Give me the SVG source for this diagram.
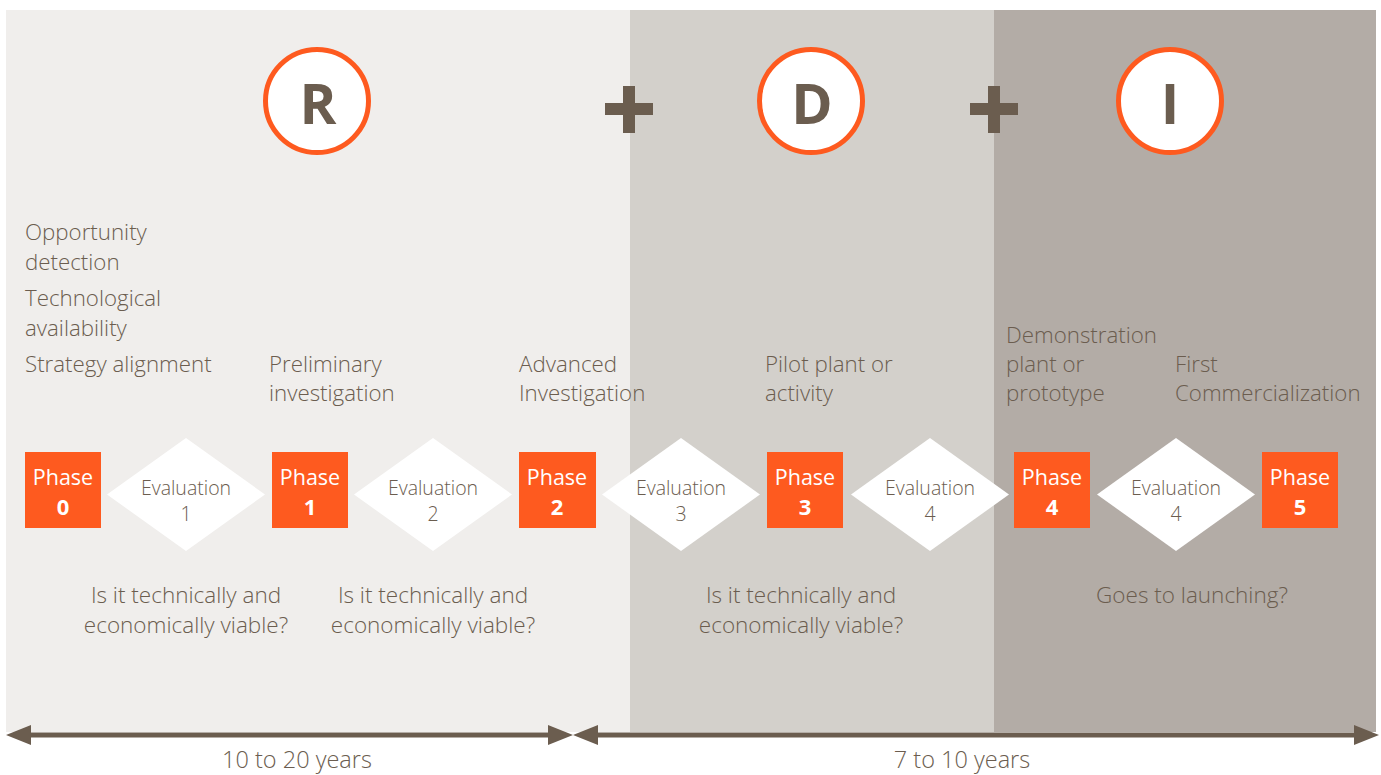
<svg xmlns="http://www.w3.org/2000/svg" width="1381" height="775" viewBox="0 0 1381 775">
<defs>
<style>
.t{font-family:"Open Sans","Noto Sans","Liberation Sans",sans-serif;fill:#6b5d4f;font-size:22.3px;font-weight:300}
.q{font-size:22.5px}
.yr{font-size:23.5px}
.c{text-anchor:middle}
.ev{font-family:"Open Sans","Noto Sans","Liberation Sans",sans-serif;fill:#6b5d4f;font-size:19.5px;font-weight:300;text-anchor:middle}
.ph{font-family:"Open Sans","Noto Sans","Liberation Sans",sans-serif;fill:#ffffff;font-size:21.5px;text-anchor:middle}
.pn{font-family:"Open Sans","Noto Sans","Liberation Sans",sans-serif;fill:#ffffff;font-size:22px;font-weight:700;text-anchor:middle}
.box{fill:#fe5a1f}
.dia{fill:#ffffff}
.circ{fill:#ffffff;stroke:#fe5a1f;stroke-width:5}
.big{font-family:"Open Sans","Noto Sans","Liberation Sans",sans-serif;fill:#6b5d4f;font-size:56px;font-weight:700;text-anchor:middle}
.plus{fill:#6b5d4f}
.ax{stroke:#6b5d4f;stroke-width:5;fill:none}
.ah{fill:#6b5d4f}
</style>
</defs>
<rect width="1381" height="775" fill="#ffffff"/>
<g id="backgrounds">
<rect x="6" y="10" width="624" height="722" fill="#f0eeec"/>
<rect x="630" y="10" width="364" height="722" fill="#d3d0cb"/>
<rect x="994" y="10" width="382" height="722" fill="#b3aca6"/>
</g>
<g id="header-R"><circle class="circ" cx="317" cy="101" r="51.5"/><text class="big" x="318" y="124">R</text></g>
<g id="plus-1" class="plus"><rect x="605" y="103" width="48" height="12"/><rect x="623" y="86" width="12" height="47"/></g>
<g id="header-D"><circle class="circ" cx="811" cy="101" r="51.5"/><text class="big" x="812" y="124">D</text></g>
<g id="plus-2" class="plus"><rect x="970" y="103" width="48" height="12"/><rect x="988" y="86" width="12" height="47"/></g>
<g id="header-I"><circle class="circ" cx="1170" cy="101" r="51.5"/><text class="big" x="1170" y="124">I</text></g>

<g id="desc-0" class="t">
<text x="25" y="240">Opportunity</text>
<text x="25" y="270">detection</text>
<text x="25" y="306">Technological</text>
<text x="25" y="336">availability</text>
<text x="25" y="372">Strategy alignment</text>
</g>
<g id="desc-1" class="t"><text x="269" y="372">Preliminary</text><text x="269" y="401">investigation</text></g>
<g id="desc-2" class="t"><text x="519" y="372">Advanced</text><text x="519" y="401">Investigation</text></g>
<g id="desc-3" class="t"><text x="765" y="372">Pilot plant or</text><text x="765" y="401">activity</text></g>
<g id="desc-4" class="t"><text x="1006" y="343">Demonstration</text><text x="1006" y="372">plant or</text><text x="1006" y="401">prototype</text></g>
<g id="desc-5" class="t"><text x="1175" y="372">First</text><text x="1175" y="401">Commercialization</text></g>

<g id="phase-0"><rect class="box" x="25" y="452" width="76" height="76"/><text class="ph" x="63" y="485">Phase</text><text class="pn" x="63" y="515">0</text></g>
<g id="phase-1"><rect class="box" x="272" y="452" width="76" height="76"/><text class="ph" x="310" y="485">Phase</text><text class="pn" x="310" y="515">1</text></g>
<g id="phase-2"><rect class="box" x="519" y="452" width="77" height="76"/><text class="ph" x="557" y="485">Phase</text><text class="pn" x="557" y="515">2</text></g>
<g id="phase-3"><rect class="box" x="767" y="452" width="76" height="76"/><text class="ph" x="805" y="485">Phase</text><text class="pn" x="805" y="515">3</text></g>
<g id="phase-4"><rect class="box" x="1014" y="452" width="76" height="76"/><text class="ph" x="1052" y="485">Phase</text><text class="pn" x="1052" y="515">4</text></g>
<g id="phase-5"><rect class="box" x="1262" y="452" width="76" height="76"/><text class="ph" x="1300" y="485">Phase</text><text class="pn" x="1300" y="515">5</text></g>

<g id="eval-1"><polygon class="dia" points="186,438 265,494.5 186,551 107,494.5"/><text class="ev" x="186" y="495">Evaluation</text><text class="ev" x="186" y="521">1</text></g>
<g id="eval-2"><polygon class="dia" points="433,438 512,494.5 433,551 354,494.5"/><text class="ev" x="433" y="495">Evaluation</text><text class="ev" x="433" y="521">2</text></g>
<g id="eval-3"><polygon class="dia" points="681,438 760,494.5 681,551 602,494.5"/><text class="ev" x="681" y="495">Evaluation</text><text class="ev" x="681" y="521">3</text></g>
<g id="eval-4a"><polygon class="dia" points="930,438 1009,494.5 930,551 851,494.5"/><text class="ev" x="930" y="495">Evaluation</text><text class="ev" x="930" y="521">4</text></g>
<g id="eval-4b"><polygon class="dia" points="1176,438 1255,494.5 1176,551 1097,494.5"/><text class="ev" x="1176" y="495">Evaluation</text><text class="ev" x="1176" y="521">4</text></g>

<g id="question-1" class="t q c"><text x="186" y="603">Is it technically and</text><text x="186" y="633">economically viable?</text></g>
<g id="question-2" class="t q c"><text x="433" y="603">Is it technically and</text><text x="433" y="633">economically viable?</text></g>
<g id="question-3" class="t q c"><text x="801" y="603">Is it technically and</text><text x="801" y="633">economically viable?</text></g>
<g id="question-4" class="t q c"><text x="1192" y="603">Goes to launching?</text></g>

<g id="connectors">
<line class="ax" x1="28" y1="735" x2="550" y2="735"/>
<polygon class="ah" points="6,735 31,725 31,745"/>
<polygon class="ah" points="573,735 548,725 548,745"/>
<line class="ax" x1="596" y1="735" x2="1356" y2="735"/>
<polygon class="ah" points="573,735 598,725 598,745"/>
<polygon class="ah" points="1379,735 1354,725 1354,745"/>
</g>
<g id="durations" class="t yr c"><text x="297" y="768">10 to 20 years</text><text x="962" y="768">7 to 10 years</text></g>
</svg>
